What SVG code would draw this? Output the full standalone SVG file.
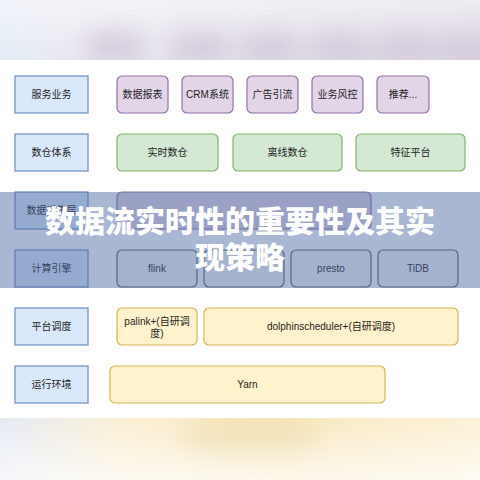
<svg xmlns="http://www.w3.org/2000/svg" width="480" height="480" viewBox="0 0 480 480">
<style>
.t{font-family:"Liberation Sans","Noto Sans CJK SC",sans-serif;font-size:10px;fill:#1f1f1f;text-anchor:middle;dominant-baseline:central}
.lbl{fill:#dae8fc;stroke:#6c8ebf;stroke-width:1.2}
.pur{fill:#e1d5e7;stroke:#9673a6;stroke-width:1.2}
.grn{fill:#d5e8d4;stroke:#82b366;stroke-width:1.2}
.yel{fill:#fff2cc;stroke:#d6b656;stroke-width:1.2}
.gry{fill:#f5f5f5;stroke:#666666;stroke-width:1.2}
.title{font-family:"Noto Sans CJK SC","Noto Sans CJK JP",sans-serif;font-size:30px;font-weight:900;fill:#ffffff;text-anchor:middle}
</style>
<defs>
<filter id="blur" x="-50%" y="-50%" width="200%" height="200%"><feGaussianBlur stdDeviation="11"/></filter>
<linearGradient id="topg" x1="0" y1="0" x2="1" y2="0">
<stop offset="0" stop-color="#e3ebf6"/><stop offset="0.15" stop-color="#e9e8f0"/><stop offset="1" stop-color="#ddd7e3"/>
</linearGradient>
<linearGradient id="botg" x1="0" y1="0" x2="1" y2="0">
<stop offset="0" stop-color="#e4eaf4"/><stop offset="0.25" stop-color="#faefd3"/><stop offset="0.6" stop-color="#f7e8bf"/><stop offset="1" stop-color="#fbf1d6"/>
</linearGradient>
<linearGradient id="botv" x1="0" y1="0" x2="0" y2="1">
<stop offset="0" stop-color="#ffffff" stop-opacity="0"/><stop offset="1" stop-color="#ffffff" stop-opacity="0.7"/>
</linearGradient>
<linearGradient id="topv" x1="0" y1="0" x2="0" y2="1">
<stop offset="0" stop-color="#ffffff" stop-opacity="0.5"/><stop offset="1" stop-color="#ffffff" stop-opacity="0"/>
</linearGradient>
<clipPath id="ctop"><rect x="0" y="0" width="480" height="60"/></clipPath>
<clipPath id="cbot"><rect x="0" y="418" width="480" height="62"/></clipPath>
</defs>
<rect width="480" height="480" fill="#ffffff"/>
<g id="top-blur" clip-path="url(#ctop)">
<rect x="0" y="0" width="480" height="60" fill="url(#topg)"/>
<g filter="url(#blur)" fill="#cfc5d8">
<ellipse cx="115" cy="44" rx="32" ry="15"/>
<ellipse cx="200" cy="44" rx="32" ry="15"/>
<ellipse cx="270" cy="44" rx="32" ry="15"/>
<ellipse cx="340" cy="44" rx="32" ry="15"/>
<ellipse cx="405" cy="44" rx="32" ry="15"/>
<ellipse cx="465" cy="44" rx="32" ry="15"/>
</g>
<rect x="0" y="0" width="480" height="60" fill="url(#topv)"/>
</g>
<g id="bottom-blur" clip-path="url(#cbot)">
<rect x="0" y="418" width="480" height="62" fill="url(#botg)"/>
<g filter="url(#blur)" fill="#efdcaa">
<ellipse cx="250" cy="440" rx="70" ry="18"/>
</g>
<rect x="0" y="418" width="480" height="62" fill="url(#botv)"/>
</g>
<g id="connectors"></g>
<g id="row-service">
<g id="n-service"><rect class="lbl" x="15" y="76" width="73" height="37"/><text class="t" x="51.5" y="94.5">服务业务</text></g>
<g id="n-report"><rect class="pur" x="117" y="76" width="51" height="37" rx="5"/><text class="t" x="142.5" y="94.5">数据报表</text></g>
<g id="n-crm"><rect class="pur" x="182" y="76" width="51" height="37" rx="5"/><text class="t" x="207.5" y="94.5">CRM系统</text></g>
<g id="n-ad"><rect class="pur" x="247" y="76" width="51" height="37" rx="5"/><text class="t" x="272.5" y="94.5">广告引流</text></g>
<g id="n-risk"><rect class="pur" x="312" y="76" width="51" height="37" rx="5"/><text class="t" x="337.5" y="94.5">业务风控</text></g>
<g id="n-rec"><rect class="pur" x="377" y="76" width="52" height="37" rx="5"/><text class="t" x="403" y="94.5">推荐...</text></g>
</g>
<g id="row-dw">
<g id="n-dw"><rect class="lbl" x="15" y="134" width="73" height="37"/><text class="t" x="51.5" y="152.5">数仓体系</text></g>
<g id="n-rt"><rect class="grn" x="117" y="134" width="101" height="37" rx="5"/><text class="t" x="167.5" y="152.5">实时数仓</text></g>
<g id="n-off"><rect class="grn" x="233" y="134" width="109" height="37" rx="5"/><text class="t" x="287.5" y="152.5">离线数仓</text></g>
<g id="n-feat"><rect class="grn" x="356" y="134" width="109" height="37" rx="5"/><text class="t" x="410.5" y="152.5">特征平台</text></g>
</g>
<g id="row-data">
<g id="n-data"><rect class="lbl" x="15" y="192" width="73" height="37"/><text class="t" x="51.5" y="210.5">数据采集层</text></g>
<g id="n-sync"><rect class="pur" x="117" y="192" width="254" height="37" rx="5"/></g>
</g>
<g id="row-engine">
<g id="n-engine"><rect class="lbl" x="15" y="250" width="73" height="37"/><text class="t" x="51.5" y="268.5">计算引擎</text></g>
<g id="n-flink"><rect class="gry" x="117" y="250" width="80" height="37" rx="5"/><text class="t" x="157" y="268.5">flink</text></g>
<g id="n-e2"><rect class="gry" x="204" y="250" width="80" height="37" rx="5"/></g>
<g id="n-presto"><rect class="gry" x="291" y="250" width="80" height="37" rx="5"/><text class="t" x="331" y="268.5">presto</text></g>
<g id="n-tidb"><rect class="gry" x="378" y="250" width="80" height="37" rx="5"/><text class="t" x="418" y="268.5">TiDB</text></g>
</g>
<g id="row-sched">
<g id="n-sched"><rect class="lbl" x="15" y="308" width="73" height="37"/><text class="t" x="51.5" y="326.5">平台调度</text></g>
<g id="n-palink"><rect class="yel" x="117" y="308" width="80" height="37" rx="5"/><text class="t" x="157" y="321.5">palink+(自研调</text><text class="t" x="157" y="333">度)</text></g>
<g id="n-dolphin"><rect class="yel" x="204" y="308" width="254" height="37" rx="5"/><text class="t" x="331" y="326.5">dolphinscheduler+(自研调度)</text></g>
</g>
<g id="row-env">
<g id="n-env"><rect class="lbl" x="15" y="366" width="73" height="37"/><text class="t" x="51.5" y="384.5">运行环境</text></g>
<g id="n-yarn"><rect class="yel" x="110" y="366" width="275" height="37" rx="5"/><text class="t" x="247.5" y="384.5">Yarn</text></g>
</g>
<g id="overlay">
<rect x="0" y="192" width="480" height="96" fill="#4a66a0" fill-opacity="0.47"/>
<text class="title" x="240" y="232">数据流实时性的重要性及其实</text>
<text class="title" x="240" y="268">现策略</text>
</g>
</svg>
